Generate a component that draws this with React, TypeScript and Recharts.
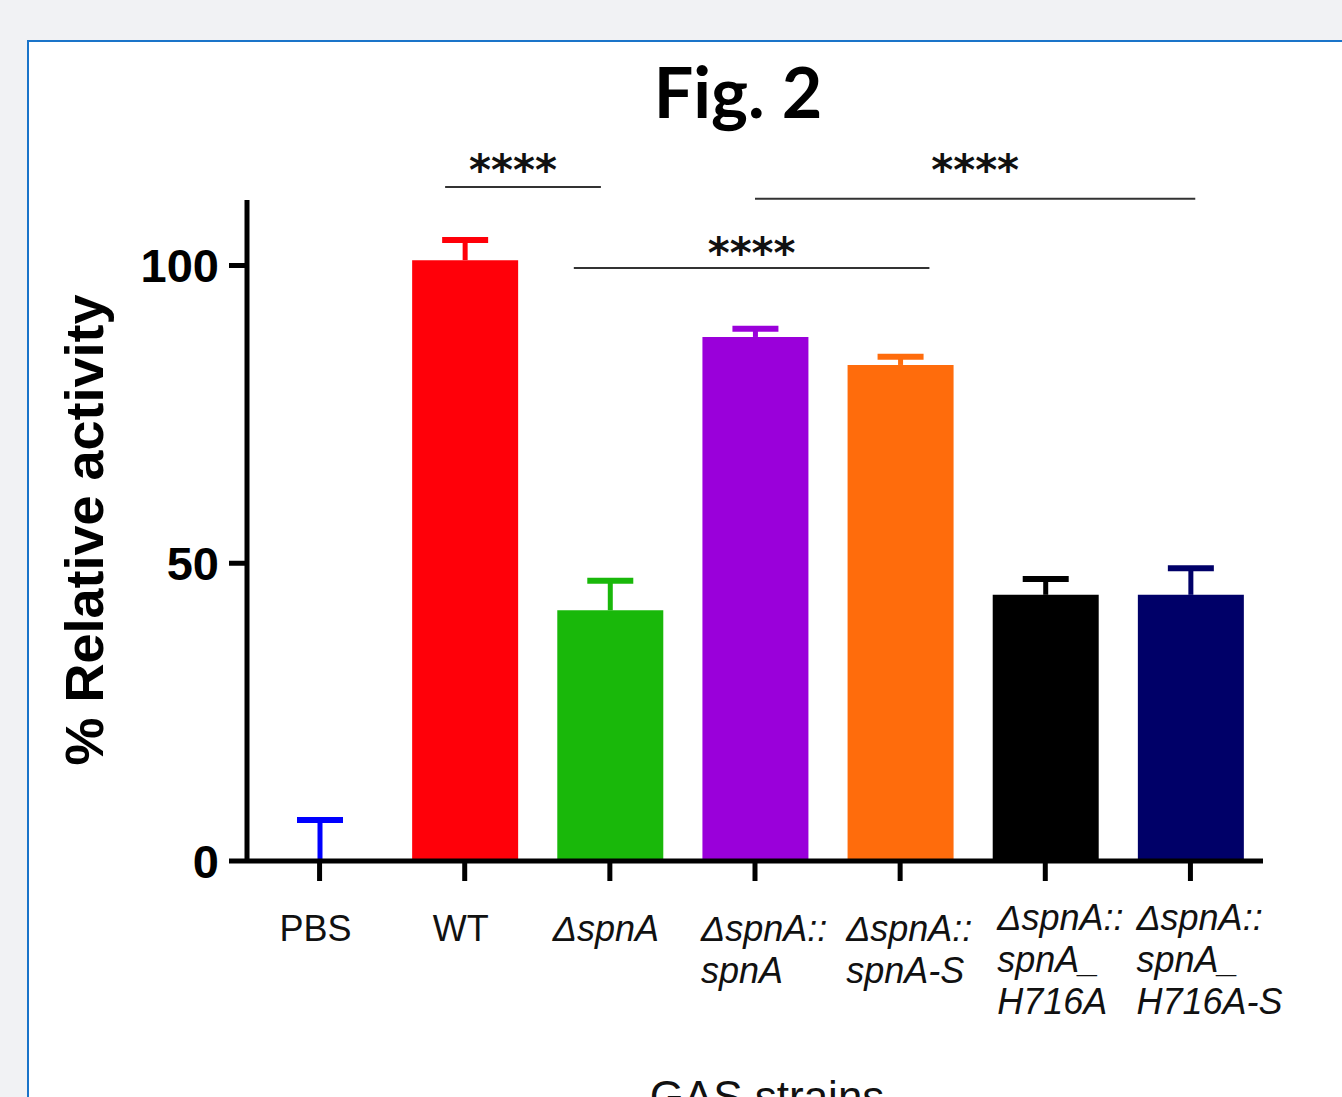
import { BarChart, Bar, Cell, XAxis, YAxis, ReferenceLine, Label } from 'recharts';

const categories = [
  'PBS',
  'WT',
  'ΔspnA',
  'ΔspnA::spnA',
  'ΔspnA::spnA-S',
  'ΔspnA::spnA_H716A',
  'ΔspnA::spnA_H716A-S',
];
const tickLines = [
  ['PBS'],
  ['WT'],
  ['ΔspnA'],
  ['ΔspnA::', 'spnA'],
  ['ΔspnA::', 'spnA-S'],
  ['ΔspnA::', 'spnA_', 'H716A'],
  ['ΔspnA::', 'spnA_', 'H716A-S'],
];
const italicTick = [false, false, true, true, true, true, true];
const activity = [0, 100.9, 42.1, 88.0, 83.3, 44.7, 44.7];
const sem = [7.2, 3.7, 5.3, 1.7, 1.7, 3.0, 4.8];
const yTicks = [0, 50, 100];

// significance brackets, x on the hidden 0..6 axis
const sigFrom = [1.17, 3.0, 1.93];
const sigTo = [2.09, 5.6, 4.03];
const sigLevel = [113.2, 111.2, 99.6];
const sigText = ['****', '****', '****'];
const sigStarLift = [22, 34, 20];
const sigStarShift = [-10, 0, 0];

const barColors = ['#0000ff', '#ff0009', '#19b80a', '#9a00da', '#ff6c0c', '#000000', '#000068'];

const data = categories.map((name, i) => ({ name, activity: activity[i], sem: sem[i] }));

const SemWhisker = (props: any) => {
  const { x, y, width, height, index } = props;
  if (x == null || y == null) return null;
  const cx = x + width / 2;
  const color = barColors[index];
  return (
    <g>
      <line x1={cx} x2={cx} y1={y + height} y2={y + 2} stroke={color} strokeWidth={5} />
      <line x1={cx - 23} x2={cx + 23} y1={y + 2} y2={y + 2} stroke={color} strokeWidth={6} />
    </g>
  );
};

const StrainTick = (props: any) => {
  const { x, y, payload } = props;
  const i = categories.indexOf(payload.value);
  const lines = tickLines[i] || [payload.value];
  const multi = lines.length > 1;
  const base = y + (lines.length === 3 ? 47 : 58);
  return (
    <g>
      {lines.map((t, k) => (
        <text
          key={k}
          x={multi ? x - (lines.length === 3 && i === 5 ? 48 : 54) : x - 4}
          y={base + k * 42}
          textAnchor={multi ? 'start' : 'middle'}
          fontSize={36}
          fontStyle={italicTick[i] ? 'italic' : 'normal'}
          fontFamily="'Liberation Sans', Arial, sans-serif"
          fill="#111"
        >
          {t}
        </text>
      ))}
    </g>
  );
};

const StarsLabel = (props: any) => {
  const { viewBox, value, lift, shift } = props;
  if (!viewBox) return null;
  return (
    <text
      x={viewBox.x + viewBox.width / 2 + shift}
      y={viewBox.y - lift + 20}
      textAnchor="middle"
      fontSize={42}
      fontWeight={700}
      fontFamily="'DejaVu Sans', sans-serif"
      fill="#111"
    >
      {value}
    </text>
  );
};

const App = () => {
  return (
    <div
      style={{
        position: 'fixed',
        left: 0,
        top: 0,
        width: 1342,
        height: 1097,
        overflow: 'hidden',
        background: '#f1f2f4',
      }}
    >
      <div
        style={{
          position: 'absolute',
          left: 27,
          top: 40,
          width: 1400,
          height: 1200,
          background: '#fff',
          border: '2px solid #1a74c9',
        }}
      />
      <div
        style={{
          position: 'absolute',
          left: 538,
          top: 56,
          width: 400,
          textAlign: 'center',
          fontFamily: 'Lato, sans-serif',
          fontWeight: 700,
          fontSize: 70,
          lineHeight: '70px',
          color: '#000',
        }}
      >
        Fig. 2
      </div>
      <div style={{ position: 'absolute', left: 0, top: 0 }}>
        <BarChart
          width={1342}
          height={1097}
          data={data}
          margin={{ top: 200, right: 79, bottom: 56, left: 147 }}
          barSize={106}
        >
          <XAxis
            dataKey="name"
            height={180}
            interval={0}
            axisLine={{ stroke: '#000', strokeWidth: 5 }}
            tickLine={{ stroke: '#000', strokeWidth: 5 }}
            tickSize={20}
            tick={<StrainTick />}
          >
            <Label
              content={() => (
                <text
                  x={767}
                  y={1112}
                  textAnchor="middle"
                  fontSize={44}
                  fontFamily="'Liberation Sans', Arial, sans-serif"
                  fill="#111"
                >
                  GAS strains
                </text>
              )}
            />
          </XAxis>
          <XAxis xAxisId="sig" type="number" domain={[0, 6]} hide allowDataOverflow />
          <YAxis
            domain={[0, 111]}
            ticks={yTicks}
            allowDataOverflow
            width={100}
            axisLine={{ stroke: '#000', strokeWidth: 5 }}
            tickLine={{ stroke: '#000', strokeWidth: 5 }}
            tickSize={18}
            tickMargin={10}
            tick={{ fill: '#000', fontSize: 47, fontWeight: 700, fontFamily: "'Liberation Sans', Arial, sans-serif" }}
          >
            <Label
              content={() => (
                <text
                  x={103}
                  y={530}
                  transform="rotate(-90 103 530)"
                  textAnchor="middle"
                  fontSize={54}
                  fontWeight={700}
                  fontFamily="'Liberation Sans', Arial, sans-serif"
                  fill="#000"
                >
                  % Relative activity
                </text>
              )}
            />
          </YAxis>
          <Bar dataKey="activity" stackId="s" isAnimationActive={false}>
            {data.map((d, i) => (
              <Cell key={d.name} fill={barColors[i]} />
            ))}
          </Bar>
          <Bar dataKey="sem" stackId="s" isAnimationActive={false} shape={<SemWhisker />} />
          {sigText.map((t, i) => (
            <ReferenceLine
              key={i}
              xAxisId="sig"
              ifOverflow="visible"
              segment={[
                { x: sigFrom[i], y: sigLevel[i] },
                { x: sigTo[i], y: sigLevel[i] },
              ]}
              stroke="#333"
              strokeWidth={2}
              label={<StarsLabel value={t} lift={sigStarLift[i]} shift={sigStarShift[i]} />}
            />
          ))}
        </BarChart>
      </div>
    </div>
  );
};

export default App;
